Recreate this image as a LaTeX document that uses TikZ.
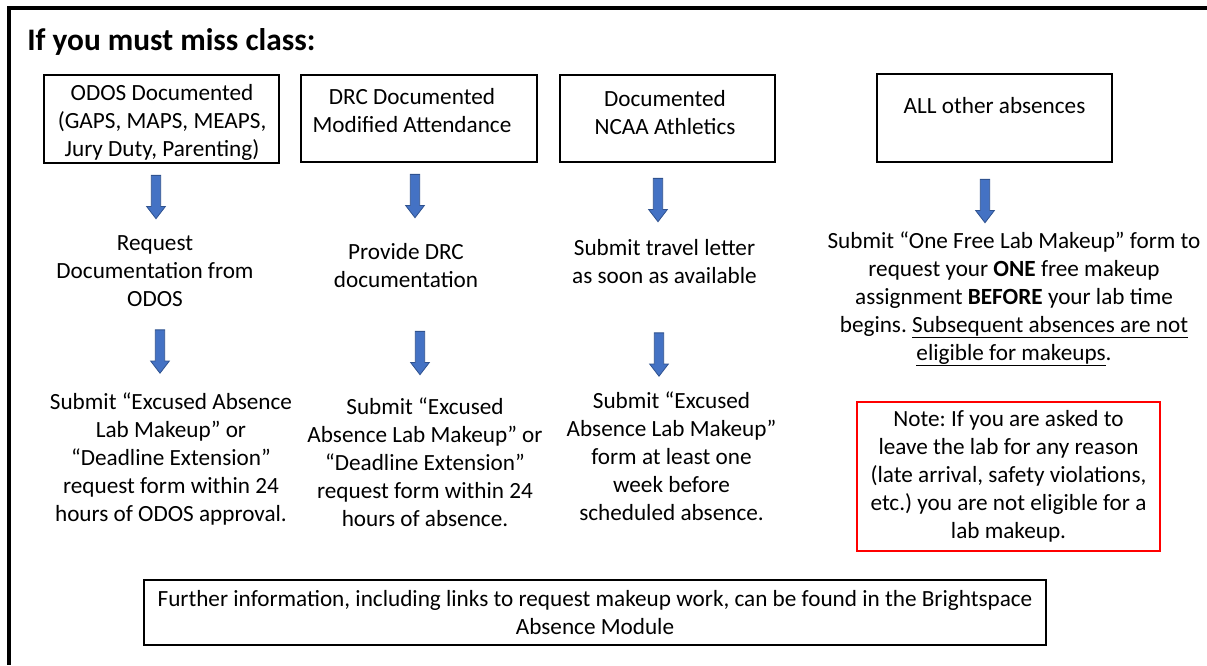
\documentclass[tikz,border=0pt]{standalone}
\usepackage{fontspec}
\setmainfont{Carlito}
\usepackage{xcolor}
\usetikzlibrary{shapes.arrows}
\definecolor{arrowblue}{HTML}{4472C4}
\definecolor{arrowedge}{HTML}{2F528F}
\newcommand\undl[1]{\underline{\smash{#1}\rule[-1.6pt]{0pt}{1.6pt}}}
\frenchspacing

\begin{document}
\begin{tikzpicture}[x=0.75pt,y=-0.75pt,
  cat/.style={draw,line width=1pt,inner sep=0pt},
  txt/.style={align=center,inner sep=0pt,font=\fontsize{17.4}{21}\selectfont},
  note/.style={draw=red,line width=1.8pt,align=center,inner sep=0pt,font=\fontsize{17.4}{21}\selectfont},
  blockarrow/.style={single arrow,draw=arrowedge,fill=arrowblue,line width=0.6pt,rotate=-90,
    minimum height=32.5pt,minimum width=14pt,inner sep=3.2pt,
    single arrow head extend=3.5pt,single arrow tip angle=75}
]
\useasboundingbox (0,0) rectangle (1207,665);
\draw[line width=2.4pt] (1207,8) -- (9,8) -- (9,665);
\node[anchor=base west,inner sep=0pt,font=\fontsize{23.5}{28}\selectfont\bfseries] (title) at (27,50) {If you must miss class:};

% absence categories
\node[cat,minimum width=176.25pt,minimum height=66pt] (odos) at (161.5,119) {};
\node[cat,minimum width=177pt,minimum height=65.25pt] (drc) at (419,118.5) {};
\node[cat,minimum width=161.25pt,minimum height=65.25pt] (ncaa) at (667.5,118.5) {};
\node[cat,minimum width=176.25pt,minimum height=66pt] (other) at (994.5,118) {};
\node[txt] (odostxt) at (162,122.5) {ODOS Documented\\(GAPS, MAPS, MEAPS,\\Jury Duty, Parenting)};
\node[txt] (drctxt) at (412,111) {DRC Documented\\Modified Attendance};
\node[txt] (ncaatxt) at (665,113) {Documented\\NCAA Athletics};
\node[txt] (othertxt) at (994.5,106) {ALL other absences};

% first step
\node[txt] (odosreq) at (155,271) {Request\\Documentation from\\ODOS};
\node[txt] (drcdoc) at (406,266) {Provide DRC\\documentation};
\node[txt] (ncaaletter) at (664.5,262) {Submit travel letter\\as soon as available};
\node[txt] (otherform) at (1014,299) {Submit “One Free Lab Makeup” form to\\request your \textbf{ONE} free makeup\\assignment \textbf{BEFORE} your lab time\\begins. \undl{Subsequent absences are not}\\\undl{eligible for makeups}.};

% second step
\node[txt] (odossubmit) at (171,459) {Submit “Excused Absence\\Lab Makeup” or\\“Deadline Extension”\\request form within 24\\hours of ODOS approval.};
\node[txt] (drcsubmit) at (425,462) {Submit “Excused\\Absence Lab Makeup” or\\“Deadline Extension”\\request form within 24\\hours of absence.};
\node[txt] (ncaasubmit) at (671.5,456) {Submit “Excused\\Absence Lab Makeup”\\form at least one\\week before\\scheduled absence.};

\node[note,minimum width=227.25pt,minimum height=111.75pt] (warn) at (1008.5,476.5) {Note: If you are asked to\\leave the lab for any reason\\(late arrival, safety violations,\\etc.) you are not eligible for a\\lab makeup.};
\node[cat,txt,draw,line width=1pt,minimum width=676.5pt,minimum height=48.75pt] (info) at (595,612.5) {Further information, including links to request makeup work, can be found in the Brightspace\\Absence Module};

% block arrows
\node[blockarrow] (odosar) at (156,194) {};
\node[blockarrow] (drcar) at (415,193) {};
\node[blockarrow] (ncaaar) at (658,197) {};
\node[blockarrow] (otherar) at (985,198) {};
\node[blockarrow] (odosar2) at (160,348.5) {};
\node[blockarrow] (drcar2) at (420,350) {};
\node[blockarrow] (ncaaar2) at (659,351.5) {};
\end{tikzpicture}
\end{document}
